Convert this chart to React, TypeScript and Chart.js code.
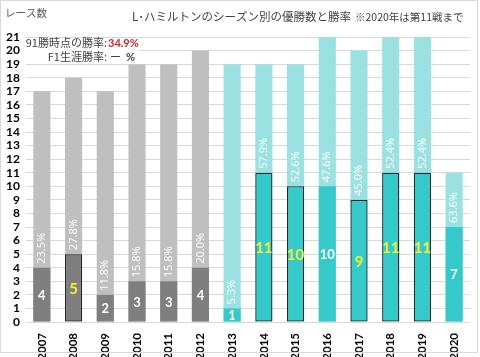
import { useEffect, useRef } from 'react';
import { Chart, registerables } from 'chart.js';

Chart.register(...registerables);

const years = ['2007', '2008', '2009', '2010', '2011', '2012', '2013', '2014', '2015', '2016', '2017', '2018', '2019', '2020'];
const races = [17, 18, 17, 19, 19, 20, 19, 19, 19, 21, 20, 21, 21, 11];
const wins = [4, 5, 2, 3, 3, 4, 1, 11, 10, 10, 9, 11, 11, 7];
const champion = [false, true, false, false, false, false, false, true, true, false, true, true, true, false];
const firstMercedesYear = 2013;

const titleMain = 'L･ハミルトンのシーズン別の優勝数と勝率';
const titleNote = '※2020年は第11戦まで';
const yAxisTitle = 'レース数';
const note1Label = '91勝時点の勝率:';
const note1Value = '34.9%';
const note2Label = 'F1生涯勝率:';
const note2Value = 'ー';
const note2Unit = '%';

const GRAY_LIGHT = '#bfbfbf';
const GRAY_DARK = '#7f7f7f';
const TEAL_LIGHT = '#9be1e1';
const TEAL_DARK = '#35c9c9';
const JP = '"Noto Sans CJK JP", "Noto Sans", sans-serif';
const NUM = 'Lato, "Noto Sans", sans-serif';

export default function App() {
  const ref = useRef<HTMLCanvasElement>(null);

  useEffect(() => {
    document.body.style.margin = '0';
    const canvas = ref.current!;
    const teal = years.map((y) => Number(y) >= firstMercedesYear);

    const labelsPlugin = {
      id: 'labels',
      afterDatasetsDraw(chart: any) {
        const ctx = chart.ctx;
        const meta = chart.getDatasetMeta(0);
        meta.data.forEach((bar: any, i: number) => {
          const { x, y, base } = bar.getProps(['x', 'y', 'base'], true);
          ctx.save();
          ctx.textAlign = 'center';
          ctx.textBaseline = 'middle';
          if (champion[i]) {
            ctx.fillStyle = '#f0f03a';
            ctx.font = `bold 15px ${NUM}`;
          } else {
            ctx.fillStyle = '#ffffff';
            ctx.font = `bold 13px ${NUM}`;
          }
          ctx.fillText(String(wins[i]), x, (y + base) / 2 + 1);
          ctx.restore();
          const pct = ((wins[i] / races[i]) * 100).toFixed(1) + '%';
          ctx.save();
          ctx.translate(x, y - 4);
          ctx.rotate(-Math.PI / 2);
          ctx.textAlign = 'left';
          ctx.textBaseline = 'middle';
          ctx.fillStyle = 'rgba(255,255,255,0.95)';
          ctx.font = `11px "Noto Sans", sans-serif`;
          ctx.fillText(pct, 0, 0);
          ctx.restore();
        });
      },
      afterDraw(chart: any) {
        const ctx = chart.ctx;
        ctx.save();
        ctx.strokeStyle = '#d9d9d9';
        ctx.lineWidth = 1;
        ctx.strokeRect(0.5, 0.5, 477, 352);
        ctx.fillStyle = '#595959';
        ctx.font = `10.5px ${JP}`;
        ctx.textBaseline = 'middle';
        ctx.textAlign = 'left';
        ctx.fillText(yAxisTitle, 5, 13);
        ctx.fillStyle = '#404040';
        ctx.font = `11.5px ${JP}`;
        ctx.fillText(titleMain, 132, 17);
        ctx.font = `10.5px ${JP}`;
        ctx.fillText(titleNote, 355, 17);
        ctx.fillStyle = '#ffffff';
        ctx.fillRect(26, 38, 112, 26);
        ctx.font = `11px ${JP}`;
        ctx.textAlign = 'right';
        ctx.fillStyle = '#404040';
        ctx.fillText(note1Label, 107, 43);
        ctx.fillText(note2Label, 107, 57);
        ctx.textAlign = 'left';
        ctx.fillStyle = '#c0282d';
        ctx.font = `bold 11px ${NUM}`;
        ctx.fillText(note1Value, 108, 43);
        ctx.fillStyle = '#404040';
        ctx.font = `11px ${JP}`;
        ctx.fillText(note2Value, 110, 57);
        ctx.font = `bold 11px ${NUM}`;
        ctx.fillText(note2Unit, 126, 57);
        ctx.restore();
      },
    };

    const chart = new Chart(canvas, {
      type: 'bar',
      data: {
        labels: years,
        datasets: [
          {
            label: '優勝数',
            data: wins,
            backgroundColor: teal.map((t) => (t ? TEAL_DARK : GRAY_DARK)),
            borderColor: champion.map((c) => (c ? '#1f2a2a' : 'rgba(0,0,0,0)')),
            borderWidth: champion.map((c) => (c ? 1.3 : 0)),
            borderSkipped: false,
            grouped: false,
            order: 0,
            barPercentage: 0.54,
            categoryPercentage: 1,
          } as any,
          {
            label: 'レース数',
            data: races,
            backgroundColor: teal.map((t) => (t ? TEAL_LIGHT : GRAY_LIGHT)),
            borderWidth: 0,
            grouped: false,
            order: 1,
            barPercentage: 0.54,
            categoryPercentage: 1,
          } as any,
        ],
      },
      options: {
        responsive: false,
        animation: false,
        layout: { padding: { top: 37, right: 10, left: 0, bottom: 0 } },
        plugins: { legend: { display: false }, tooltip: { enabled: false }, title: { display: false } },
        scales: {
          x: {
            grid: { display: false },
            border: { display: false },
            ticks: {
              autoSkip: false,
              minRotation: 90,
              maxRotation: 90,
              padding: 3,
              color: '#000000',
              font: { family: NUM, size: 11.5, weight: 'bold' },
            },
            afterFit: (s: any) => {
              s.height = 35;
            },
          },
          y: {
            min: 0,
            max: 21,
            grid: { color: '#d9d9d9', drawTicks: false },
            border: { display: false },
            ticks: {
              autoSkip: false,
              stepSize: 1,
              padding: 6,
              color: '#000000',
              font: { family: NUM, size: 12, weight: 'bold' },
            },
            afterFit: (s: any) => {
              s.width = 26;
            },
          },
        },
      },
      plugins: [labelsPlugin],
    } as any);

    return () => chart.destroy();
  }, []);

  return (
    <div style={{ position: 'absolute', left: 0, top: 0, width: 480, height: 357 }}>
      <canvas ref={ref} width={480} height={357} style={{ display: 'block', width: 480, height: 357 }} />
    </div>
  );
}
